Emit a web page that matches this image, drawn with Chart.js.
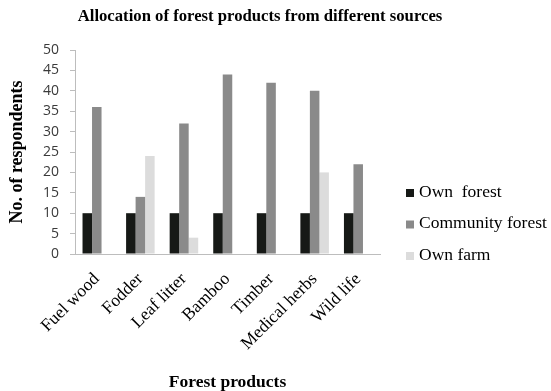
<!DOCTYPE html>
<html>
<head>
<meta charset="utf-8">
<script src="https://cdn.jsdelivr.net/npm/chart.js@4.4.1/dist/chart.umd.min.js"></script>
<style>
  body { margin: 0; background: #ffffff; }
  canvas { display: block; }
</style>
</head>
<body>
<canvas id="chart" width="551" height="391"></canvas>
<script>
const products = ['Fuel wood', 'Fodder', 'Leaf litter', 'Bamboo', 'Timber', 'Medical herbs', 'Wild life'];
const ownForest = [10, 10, 10, 10, 10, 10, 10];
const communityForest = [36, 14, 32, 44, 42, 40, 22];
const ownFarm = [0, 24, 4, 0, 0, 20, 0];
const yTicks = [0, 5, 10, 15, 20, 25, 30, 35, 40, 45, 50];

const TITLE = 'Allocation of forest products from different sources';
const SERIF = '"Liberation Serif", "Times New Roman", serif';

// title and legend drawn by hand so they sit where the original has them
const titleAndLegend = {
  id: 'titleAndLegend',
  afterDraw(chart) {
    const ctx = chart.ctx;
    ctx.save();
    ctx.fillStyle = '#000000';
    ctx.font = 'bold 16.7px ' + SERIF;
    ctx.textAlign = 'center';
    ctx.textBaseline = 'middle';
    ctx.fillText(TITLE, 260, 17);

    ctx.font = '17.5px ' + SERIF;
    ctx.textAlign = 'left';
    chart.data.datasets.forEach((ds, i) => {
      const y = 192 + i * 31.5;
      ctx.fillStyle = ds.backgroundColor;
      ctx.fillRect(406, y - 3, 8, 8);
      ctx.fillStyle = '#000000';
      ctx.fillText(ds.label, 419, y);
    });
    ctx.restore();
  }
};

new Chart(document.getElementById('chart'), {
  type: 'bar',
  plugins: [titleAndLegend],
  data: {
    labels: products,
    datasets: [
      { label: 'Own  forest', data: ownForest, backgroundColor: '#161916' },
      { label: 'Community forest', data: communityForest, backgroundColor: '#8a8a8a' },
      { label: 'Own farm', data: ownFarm, backgroundColor: '#dcdcdc' }
    ]
  },
  options: {
    responsive: false,
    animation: false,
    devicePixelRatio: 1,
    categoryPercentage: 0.655,
    barPercentage: 1.0,
    layout: { padding: { top: 50, right: 171, bottom: 0, left: 0 } },
    plugins: {
      legend: { display: false },
      title: { display: false },
      tooltip: { enabled: false }
    },
    scales: {
      x: {
        afterFit: (scale) => { scale.height = 137; },
        grid: { display: false, drawTicks: false },
        border: { display: true, color: '#bdbdbd', width: 1 },
        ticks: {
          color: '#000000',
          font: { family: SERIF, size: 17.5 },
          maxRotation: 45,
          minRotation: 45,
          padding: 15,
          autoSkip: false
        },
        title: {
          display: true,
          text: 'Forest products',
          color: '#000000',
          font: { family: SERIF, size: 17.5, weight: 'bold' },
          padding: { top: 0, bottom: -2 }
        }
      },
      y: {
        min: 0,
        max: 50,
        afterFit: (scale) => { scale.width = 75; },
        afterBuildTicks: (scale) => { scale.ticks = yTicks.map(v => ({ value: v })); },
        grid: { drawOnChartArea: false, drawTicks: true, tickLength: 5, color: '#bdbdbd' },
        border: { display: true, color: '#bdbdbd', width: 1 },
        ticks: {
          color: '#3a3a3a',
          font: { family: '"Open Sans", sans-serif', size: 14 },
          padding: 11
        },
        title: {
          display: true,
          text: 'No. of respondents',
          color: '#000000',
          font: { family: SERIF, size: 18, weight: 'bold' },
          padding: { top: 7, bottom: 0 }
        }
      }
    }
  }
});
</script>
</body>
</html>
